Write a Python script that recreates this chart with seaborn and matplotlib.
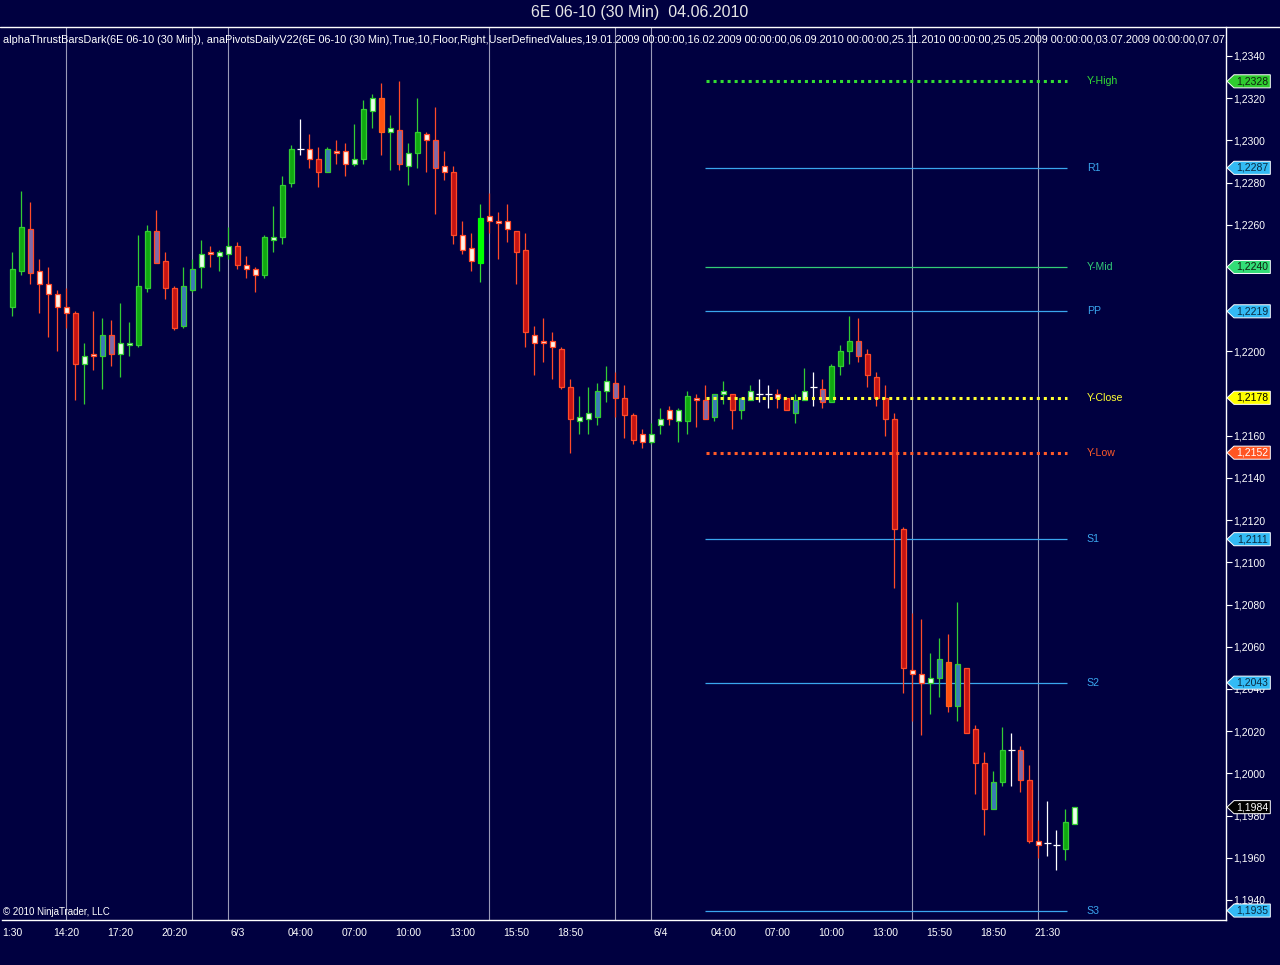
import numpy as np
import pandas as pd
import seaborn as sns
import matplotlib.pyplot as plt
from matplotlib.patches import Polygon
from matplotlib.transforms import blended_transform_factory
from matplotlib.ticker import FuncFormatter, FixedLocator

# 30 min bars, 6E 06-10
opens = [1.2221, 1.2238, 1.2258, 1.2238, 1.2232, 1.2227, 1.2221, 1.2218, 1.2194, 1.2199,
         1.2198, 1.2208, 1.2199, 1.2203, 1.2203, 1.2230, 1.2257, 1.2243, 1.2230, 1.2212,
         1.2229, 1.2240, 1.2247, 1.2245, 1.2246, 1.2250, 1.2241, 1.2239, 1.2236, 1.2253,
         1.2254, 1.2280, 1.2296, 1.2296, 1.2291, 1.2285, 1.2295, 1.2295, 1.2289, 1.2291,
         1.2314, 1.2320, 1.2304, 1.2305, 1.2288, 1.2294, 1.2303, 1.2300, 1.2288, 1.2285,
         1.2255, 1.2249, 1.2242, 1.2264, 1.2262, 1.2262, 1.2257, 1.2248, 1.2208, 1.2205,
         1.2205, 1.2201, 1.2183, 1.2167, 1.2168, 1.2169, 1.2181, 1.2185, 1.2178, 1.2170,
         1.2157, 1.2161, 1.2165, 1.2168, 1.2172, 1.2167, 1.2178, 1.2177, 1.2169, 1.2180,
         1.2180, 1.2172, 1.2177, 1.2180, 1.2180, 1.2180, 1.2178, 1.2171, 1.2177, 1.2183,
         1.2182, 1.2176, 1.2193, 1.2200, 1.2205, 1.2199, 1.2188, 1.2178, 1.2168, 1.2116,
         1.2049, 1.2047, 1.2043, 1.2045, 1.2053, 1.2032, 1.2050, 1.2021, 1.2005, 1.1983,
         1.1996, 1.2011, 1.2011, 1.1997, 1.1968, 1.1967, 1.1966, 1.1964, 1.1976]
highs = [1.2247, 1.2276, 1.2271, 1.2244, 1.2240, 1.2229, 1.2230, 1.2219, 1.2204, 1.2219,
         1.2216, 1.2215, 1.2223, 1.2214, 1.2255, 1.2260, 1.2267, 1.2247, 1.2231, 1.2240,
         1.2244, 1.2253, 1.2250, 1.2248, 1.2259, 1.2252, 1.2245, 1.2240, 1.2255, 1.2269,
         1.2283, 1.2298, 1.2310, 1.2303, 1.2297, 1.2297, 1.2300, 1.2299, 1.2308, 1.2319,
         1.2322, 1.2327, 1.2312, 1.2328, 1.2299, 1.2320, 1.2304, 1.2316, 1.2295, 1.2288,
         1.2262, 1.2256, 1.2270, 1.2275, 1.2266, 1.2270, 1.2257, 1.2256, 1.2212, 1.2216,
         1.2209, 1.2202, 1.2187, 1.2179, 1.2183, 1.2185, 1.2193, 1.2190, 1.2184, 1.2171,
         1.2163, 1.2166, 1.2173, 1.2174, 1.2173, 1.2181, 1.2180, 1.2184, 1.2180, 1.2186,
         1.2180, 1.2178, 1.2184, 1.2187, 1.2184, 1.2182, 1.2178, 1.2180, 1.2192, 1.2190,
         1.2187, 1.2194, 1.2203, 1.2217, 1.2216, 1.2201, 1.2190, 1.2184, 1.2171, 1.2117,
         1.2076, 1.2073, 1.2057, 1.2064, 1.2066, 1.2081, 1.2050, 1.2023, 1.2010, 1.2001,
         1.2022, 1.2019, 1.2013, 1.2004, 1.1978, 1.1987, 1.1973, 1.1983, 1.1984]
lows = [1.2217, 1.2236, 1.2232, 1.2218, 1.2207, 1.2200, 1.2211, 1.2177, 1.2175, 1.2191,
        1.2182, 1.2193, 1.2188, 1.2198, 1.2202, 1.2228, 1.2242, 1.2225, 1.2210, 1.2211,
        1.2228, 1.2230, 1.2240, 1.2238, 1.2244, 1.2239, 1.2235, 1.2228, 1.2235, 1.2247,
        1.2251, 1.2278, 1.2293, 1.2287, 1.2278, 1.2285, 1.2289, 1.2283, 1.2288, 1.2289,
        1.2306, 1.2293, 1.2286, 1.2286, 1.2279, 1.2287, 1.2285, 1.2265, 1.2281, 1.2251,
        1.2246, 1.2238, 1.2233, 1.2256, 1.2244, 1.2252, 1.2232, 1.2202, 1.2189, 1.2195,
        1.2187, 1.2182, 1.2152, 1.2161, 1.2161, 1.2165, 1.2176, 1.2169, 1.2159, 1.2156,
        1.2154, 1.2156, 1.2161, 1.2165, 1.2157, 1.2161, 1.2164, 1.2168, 1.2167, 1.2175,
        1.2163, 1.2168, 1.2177, 1.2176, 1.2173, 1.2173, 1.2172, 1.2166, 1.2177, 1.2174,
        1.2173, 1.2176, 1.2189, 1.2194, 1.2195, 1.2183, 1.2174, 1.2160, 1.2088, 1.2038,
        1.2025, 1.2018, 1.2028, 1.2036, 1.2029, 1.2025, 1.2019, 1.1990, 1.1971, 1.1983,
        1.1994, 1.1994, 1.1991, 1.1967, 1.1960, 1.1961, 1.1954, 1.1959, 1.1976]
closes = [1.2239, 1.2259, 1.2237, 1.2232, 1.2227, 1.2221, 1.2218, 1.2194, 1.2198, 1.2198,
          1.2208, 1.2199, 1.2204, 1.2204, 1.2231, 1.2257, 1.2242, 1.2230, 1.2211, 1.2231,
          1.2239, 1.2246, 1.2246, 1.2247, 1.2250, 1.2241, 1.2239, 1.2236, 1.2254, 1.2254,
          1.2279, 1.2296, 1.2296, 1.2291, 1.2285, 1.2296, 1.2294, 1.2289, 1.2291, 1.2315,
          1.2320, 1.2304, 1.2306, 1.2289, 1.2294, 1.2304, 1.2300, 1.2287, 1.2285, 1.2255,
          1.2248, 1.2243, 1.2263, 1.2262, 1.2261, 1.2258, 1.2247, 1.2209, 1.2204, 1.2204,
          1.2202, 1.2183, 1.2168, 1.2169, 1.2171, 1.2181, 1.2186, 1.2178, 1.2170, 1.2158,
          1.2161, 1.2157, 1.2168, 1.2172, 1.2167, 1.2179, 1.2177, 1.2168, 1.2180, 1.2181,
          1.2172, 1.2178, 1.2181, 1.2180, 1.2180, 1.2178, 1.2172, 1.2177, 1.2181, 1.2183,
          1.2176, 1.2193, 1.2200, 1.2205, 1.2198, 1.2189, 1.2178, 1.2168, 1.2116, 1.2050,
          1.2047, 1.2043, 1.2045, 1.2054, 1.2032, 1.2052, 1.2019, 1.2005, 1.1983, 1.1996,
          1.2011, 1.2011, 1.1997, 1.1968, 1.1966, 1.1967, 1.1966, 1.1977, 1.1984]
# bar colouring of alphaThrustBarsDark
kinds = list('ggpddddrud'
             'bpuuggprrb'
             'buduurddgu'
             'ggxdrbddug'
             'uoupugdpdr'
             'ddldddrrdd'
             'drruubuprr'
             'duudugdpbu'
             'rbuxxdrbux'
             'pgggprrrrr'
             'ddubobrrrb'
             'gxprdxxgu')

level_names = ['Y-High', 'R1', 'Y-Mid', 'PP', 'Y-Close', 'Y-Low', 'S1', 'S2', 'S3']
level_values = [1.2328, 1.2287, 1.2240, 1.2219, 1.2178, 1.2152, 1.2111, 1.2043, 1.1935]

session_lines = [6, 20, 24, 53, 67, 71, 100, 114]

xtick_pos = [0, 6, 12, 18, 25, 32, 38, 44, 50, 56, 62, 72, 79, 85, 91, 97, 103, 109, 115]
xtick_labels = ['1:30', '14:20', '17:20', '20:20', '6/3', '04:00', '07:00', '10:00', '13:00',
                '15:50', '18:50', '6/4', '04:00', '07:00', '10:00', '13:00', '15:50', '18:50', '21:30']

# price scale ticks; 1,2220 / 1,2180 / 1,2240 sit under the level markers
ytick_values = [1.1940, 1.1960, 1.1980, 1.2000, 1.2020, 1.2040, 1.2060, 1.2080, 1.2100,
                1.2120, 1.2140, 1.2160, 1.2200, 1.2260, 1.2280, 1.2300, 1.2320, 1.2340]

last_price = 1.1984

bg = '#000040'
sns.set_style('dark', rc={'axes.facecolor': bg, 'figure.facecolor': bg,
                          'axes.edgecolor': 'white', 'text.color': 'white',
                          'xtick.color': 'white', 'ytick.color': 'white',
                          'axes.grid': False})
plt.rcParams['font.family'] = ['Liberation Sans', 'DejaVu Sans']

df = pd.DataFrame({'open': opens, 'high': highs, 'low': lows, 'close': closes, 'kind': kinds})
df['i'] = np.arange(len(df))

GREEN = '#33cc33'
RED = '#ff4a28'
palette = {
    'g': ('#10a810', GREEN, GREEN),
    'l': ('#00ff00', '#00ff00', '#33dd33'),
    'r': ('#c41414', RED, RED),
    'o': ('#ff5010', '#ff6020', RED),
    'u': ('#eaffea', GREEN, GREEN),
    'd': ('#fff2e6', RED, RED),
    'b': ('#3a7ab8', GREEN, GREEN),
    'p': ('#7f6aa8', RED, RED),
    'x': ('white', 'white', 'white'),
}
df['fill'] = df['kind'].map(lambda k: palette[k][0])
df['edge'] = df['kind'].map(lambda k: palette[k][1])
df['wick'] = df['kind'].map(lambda k: palette[k][2])

fig = plt.figure(figsize=(12.8, 9.65), dpi=100)
ax = fig.add_axes([2 / 1280, 45 / 965, 1224 / 1280, 893 / 965])
ax.set_xlim(-1.144, 134.856)
ax.set_ylim(1.193052, 1.235374)

for s in session_lines:
    ax.axvline(s, color='#9a9ab8', lw=0.8, zorder=1)

# wicks
ax.vlines(df['i'], df['low'], df['high'], colors=df['wick'], lw=0.9, zorder=3)

# bodies
body = df[df['kind'] != 'x']
bot = np.minimum(body['open'], body['close'])
hgt = np.maximum(np.abs(body['close'] - body['open']), 0.0001)
ax.bar(body['i'], hgt, bottom=bot, width=0.58, color=body['fill'],
       edgecolor=body['edge'], linewidth=0.9, zorder=4)
doji = df[df['kind'] == 'x']
ax.hlines(doji['close'], doji['i'] - 0.38, doji['i'] + 0.38, colors='white', lw=0.9, zorder=4)

# pivot levels
level_colors = ['#33dd33', '#3aa6ee', '#33cc77', '#3aa6ee', '#ffff33', '#ff5a28',
                '#3aa6ee', '#3aa6ee', '#3aa6ee']
level_dotted = [True, False, False, False, True, True, False, False, False]
for name, val, col, dot in zip(level_names, level_values, level_colors, level_dotted):
    if dot:
        ax.hlines(val, 77.1, 117.2, colors=col, lw=2.2, linestyles=(0, (1, 1.3)), zorder=5)
    else:
        ax.hlines(val, 76.95, 117.2, colors=col, lw=0.9, zorder=2)
    ax.text(119.4, val, name, color=col, fontsize=7.6, va='center', ha='left', zorder=6)

# price markers on the scale
trans = blended_transform_factory(ax.transAxes, ax.transData)
marker_colors = ['#2fcc2f', '#33bbf5', '#33dd77', '#33bbf5', '#ffff00', '#ff5522',
                 '#33bbf5', '#33bbf5', '#33bbf5']
marker_text = ['#102010', '#0a2a40', '#102010', '#0a2a40', 'black', 'white',
               '#0a2a40', '#0a2a40', '#0a2a40']
hh = 0.00031
x0, x1, x2 = 1.0008, 1.0065, 1.0362
markers = list(zip(level_values, marker_colors, marker_text)) + [(last_price, 'black', 'white')]
for val, col, tcol in markers:
    poly = Polygon([(x0, val), (x1, val + hh), (x2, val + hh), (x2, val - hh), (x1, val - hh)],
                   closed=True, transform=trans, facecolor=col, edgecolor='white',
                   lw=0.7, clip_on=False, zorder=10)
    ax.add_patch(poly)
    ax.text((x1 + x2) / 2, val, f'{val:.4f}'.replace('.', ','), transform=trans, color=tcol,
            fontsize=7.5, ha='center', va='center', clip_on=False, zorder=11)

# axes cosmetics
for side in ['left', 'top']:
    ax.spines[side].set_visible(False)
ax.spines['right'].set_color('white')
ax.spines['bottom'].set_color('white')
ax.spines['right'].set_linewidth(1)
ax.spines['bottom'].set_linewidth(1)
ax.yaxis.tick_right()
ax.yaxis.set_major_locator(FixedLocator(ytick_values))
ax.yaxis.set_major_formatter(FuncFormatter(lambda v, p: f'{v:.4f}'.replace('.', ',')))
ax.tick_params(axis='y', which='major', direction='out', length=4, width=0.8, pad=1,
               labelsize=7.5, colors='white', right=True, left=False)
ax.set_xticks(xtick_pos)
ax.set_xticklabels(xtick_labels)
ax.tick_params(axis='x', direction='out', length=3, width=0.8, pad=3, labelsize=7.5,
               colors='white')

fig.add_artist(plt.Line2D([0, 1], [1 - 27 / 965, 1 - 27 / 965], color='white', lw=1))

fig.text(0.5, 1 - 13 / 965, '6E 06-10 (30 Min)  04.06.2010', ha='center', va='center',
         fontsize=11.5, color='#e6e6e6')
ax.text(1 / 1224, 1 - 13 / 893,
        'alphaThrustBarsDark(6E 06-10 (30 Min)), anaPivotsDailyV22(6E 06-10 (30 Min),True,10,'
        'Floor,Right,UserDefinedValues,19.01.2009 00:00:00,16.02.2009 00:00:00,06.09.2010 00:00:00,'
        '25.11.2010 00:00:00,25.05.2009 00:00:00,03.07.2009 00:00:00,07.07.2009 00:00:00)',
        transform=ax.transAxes, fontsize=7.8, color='white', va='center', ha='left',
        clip_on=True, zorder=8)
ax.text(1 / 1224, 8 / 893, '\u00a9 2010 NinjaTrader, LLC', transform=ax.transAxes,
        fontsize=7, color='white', va='center', ha='left', zorder=8)

fig.savefig('out.png', dpi=100, facecolor=bg)
